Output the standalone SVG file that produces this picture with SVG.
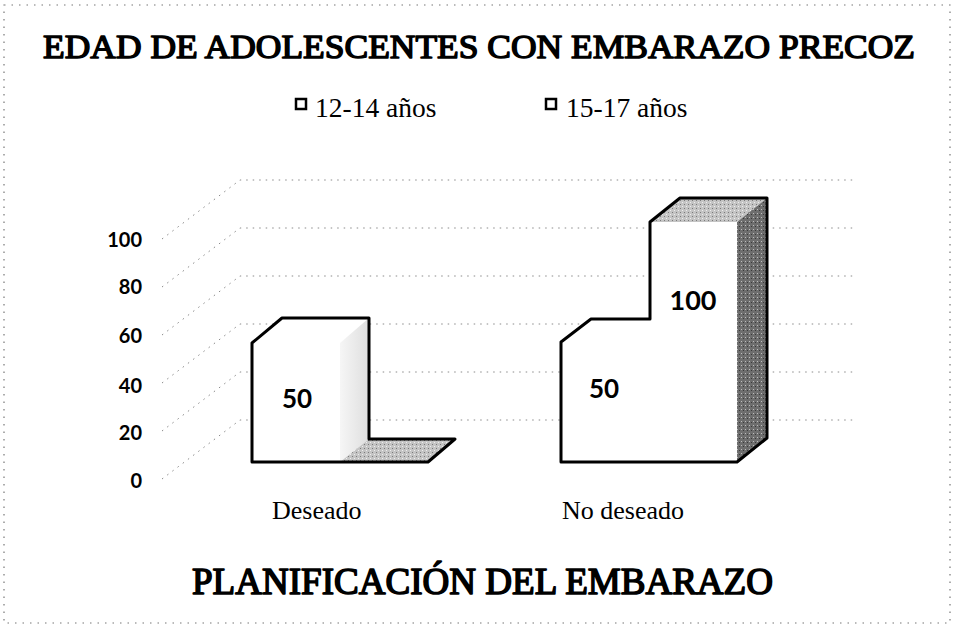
<svg xmlns="http://www.w3.org/2000/svg" width="955" height="629" viewBox="0 0 955 629">
<defs>
<style>
.serif{font-family:"Liberation Serif","Times New Roman",serif;fill:#000}
.fauxbold{font-weight:normal;stroke:#000;stroke-linejoin:round}
.sans{font-family:Lato,"Liberation Sans",Arial,sans-serif;font-weight:bold;fill:#000}
.grid{stroke:#8a8a8a;stroke-width:1;stroke-dasharray:1.5 5;fill:none}
.frame{stroke:#777;stroke-width:1.2;stroke-dasharray:1.5 6;fill:none}
.outline{fill:none;stroke:#000;stroke-width:3;stroke-linejoin:round}
.face{fill:#fff;stroke:none}
</style>
<linearGradient id="sideLight" x1="0" y1="0" x2="1" y2="0">
<stop offset="0" stop-color="#f6f6f6"/>
<stop offset="1" stop-color="#dedede"/>
</linearGradient>
<pattern id="darkDots" width="4" height="4" patternUnits="userSpaceOnUse">
<rect width="4" height="4" fill="#6e6e6e"/>
<rect x="1" y="1" width="1" height="1" fill="#bdbdbd"/>
<rect x="3" y="2" width="1" height="1" fill="#3a3a3a"/>
</pattern>
<pattern id="medDots" width="4" height="4" patternUnits="userSpaceOnUse">
<rect width="4" height="4" fill="#c4c4c4"/>
<rect x="0" y="0" width="1" height="1" fill="#7a7a7a"/>
<rect x="2" y="2" width="1" height="1" fill="#eeeeee"/>
</pattern>
</defs>

<rect width="955" height="629" fill="#fff"/>
<rect id="frame" class="frame" x="4" y="5" width="946" height="618"/>

<g id="title">
<text class="serif fauxbold" x="479" y="58" font-size="34" stroke-width="1.5" text-anchor="middle" textLength="872" lengthAdjust="spacingAndGlyphs">EDAD DE ADOLESCENTES CON EMBARAZO PRECOZ</text>
</g>

<g id="legend">
<g id="legend-12-14">
<rect x="296" y="99" width="10" height="10" fill="#fff" stroke="#000" stroke-width="2.5"/>
<text class="serif" x="315" y="117" font-size="27.5">12-14 años</text>
</g>
<g id="legend-15-17">
<rect x="546" y="99" width="10" height="10" fill="#fff" stroke="#000" stroke-width="2.5"/>
<text class="serif" x="566" y="117" font-size="27.5">15-17 años</text>
</g>
</g>

<g id="gridlines">
<path class="grid" d="M162 239 L240 180 L856 180"/>
<path class="grid" d="M162 287 L240 228 L856 228"/>
<path class="grid" d="M162 335 L240 276 L856 276"/>
<path class="grid" d="M162 383 L240 324 L856 324"/>
<path class="grid" d="M162 431 L240 372 L856 372"/>
<path class="grid" d="M162 479 L240 420 L856 420"/>
</g>

<g id="axis-labels" class="sans" font-size="20" text-anchor="end">
<text x="142" y="247" class="sans">100</text>
<text x="142" y="294" class="sans">80</text>
<text x="142" y="343" class="sans">60</text>
<text x="142" y="393" class="sans">40</text>
<text x="142" y="440" class="sans">20</text>
<text x="142" y="488" class="sans">0</text>
</g>

<g id="bar-deseado">
<rect class="face" x="252" y="343" width="88" height="119"/>
<polygon class="face" points="252,343 282,318 369,318 340,343"/>
<polygon points="340,343 369,318 369,439 340,462" fill="url(#sideLight)"/>
<polygon points="340,462 369,439 455,439 428,462" fill="url(#medDots)"/>
<polygon class="outline" points="252,343 282,318 369,318 369,439 455,439 428,462 252,462"/>
<text class="sans" x="297" y="408" font-size="26" text-anchor="middle">50</text>
</g>

<g id="bar-no-deseado">
<rect class="face" x="561" y="342" width="89" height="120"/>
<polygon class="face" points="561,342 591,319 650,319 650,342"/>
<rect class="face" x="650" y="222" width="87" height="240"/>
<polygon points="650,222 680,198 767,198 737,222" fill="url(#medDots)"/>
<polygon points="737,222 767,198 767,438 737,462" fill="url(#darkDots)"/>
<polygon class="outline" points="561,342 591,319 650,319 650,222 680,198 767,198 767,438 737,462 561,462"/>
<text class="sans" x="604" y="398" font-size="26" text-anchor="middle">50</text>
<text class="sans" x="693" y="310" font-size="27" text-anchor="middle">100</text>
</g>

<g id="categories">
<text class="serif" x="272" y="519" font-size="26">Deseado</text>
<text class="serif" x="562" y="519" font-size="26">No deseado</text>
</g>

<g id="axis-title">
<text class="serif fauxbold" x="192" y="594" font-size="37" stroke-width="1.6" textLength="581" lengthAdjust="spacingAndGlyphs">PLANIFICACIÓN DEL EMBARAZO</text>
</g>
</svg>
